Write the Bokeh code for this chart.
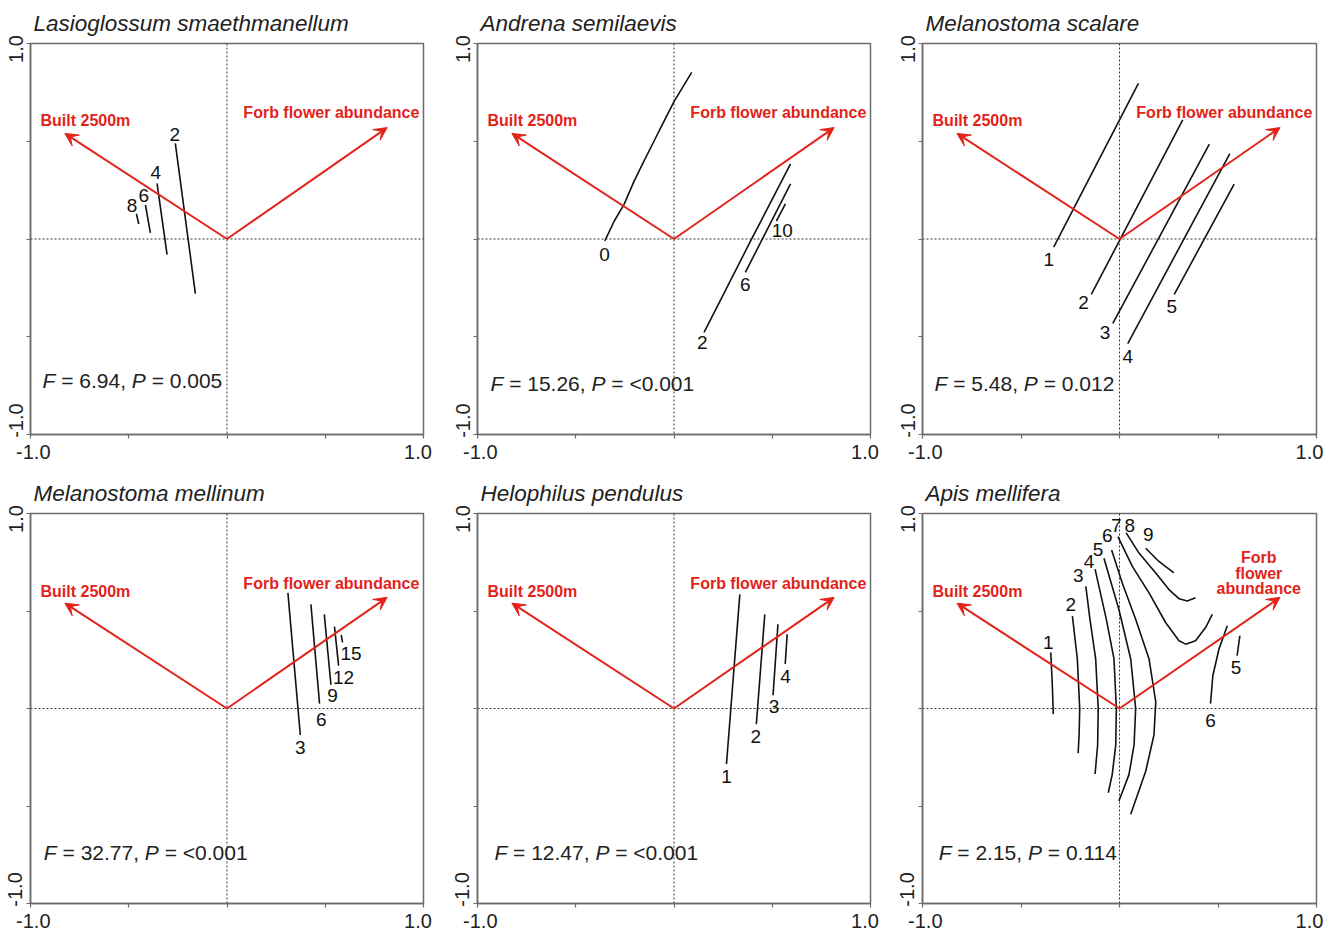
from bokeh.plotting import figure
from bokeh.models import Range1d, FixedTicker, PrintfTickFormatter, Span, Arrow, VeeHead
from bokeh.layouts import column, row
from bokeh.core.properties import value
from bokeh.embed import file_html
from bokeh.resources import INLINE

# ---------------- data ----------------
SPECIES = ["Lasioglossum smaethmanellum", "Andrena semilaevis", "Melanostoma scalare",
           "Melanostoma mellinum", "Helophilus pendulus", "Apis mellifera"]
F_STAT = ["6.94", "15.26", "5.48", "32.77", "12.47", "2.15"]
P_STAT = ["0.005", "<0.001", "0.012", "<0.001", "<0.001", "0.114"]

ENV_NAMES = ["Built 2500m", "Forb flower abundance"]
ENV_X = [-0.825, 0.815]
ENV_Y = [0.54, 0.57]

# isolines (GAM response surfaces) per species: levels, line coordinates, label positions
L1_LEVELS = ["2", "4", "6", "8"]
L1_X = [[-0.263, -0.161], [-0.356, -0.305], [-0.415, -0.390], [-0.461, -0.449]]
L1_Y = [[0.489, -0.279], [0.285, -0.080], [0.175, 0.031], [0.129, 0.076]]
L1_LX = [-0.266, -0.363, -0.424, -0.483]
L1_LY = [0.535, 0.342, 0.221, 0.172]

L2_LEVELS = ["0", "2", "6", "10"]
L2_X = [[-0.352, -0.304, -0.254, -0.203, -0.153, -0.102, -0.068, 0.0, 0.09],
        [0.153, 0.39, 0.593], [0.363, 0.593], [0.521, 0.567]]
L2_Y = [[-0.010, 0.092, 0.177, 0.296, 0.398, 0.5, 0.568, 0.703, 0.852],
        [-0.478, -0.01, 0.384], [-0.171, 0.282], [0.092, 0.180]]
L2_LX = [-0.354, 0.144, 0.363, 0.551]
L2_LY = [-0.079, -0.529, -0.235, 0.044]

L3_LEVELS = ["1", "2", "3", "4", "5"]
L3_X = [[-0.334, 0.096], [-0.143, 0.321], [-0.034, 0.456], [0.042, 0.560], [0.278, 0.582]]
L3_Y = [[-0.042, 0.796], [-0.283, 0.609], [-0.432, 0.485], [-0.535, 0.437], [-0.283, 0.281]]
L3_LX = [-0.359, -0.182, -0.073, 0.042, 0.265]
L3_LY = [-0.105, -0.325, -0.478, -0.602, -0.347]

L4_LEVELS = ["3", "6", "9", "12", "15"]
L4_X = [[0.310, 0.373], [0.427, 0.471], [0.495, 0.529], [0.547, 0.568], [0.581, 0.588]]
L4_Y = [[0.593, -0.136], [0.534, 0.025], [0.483, 0.122], [0.420, 0.220], [0.378, 0.339]]
L4_LX = [0.373, 0.480, 0.537, 0.593, 0.631]
L4_LY = [-0.200, -0.054, 0.068, 0.161, 0.283]

L5_LEVELS = ["1", "2", "3", "4"]
L5_X = [[0.335, 0.267], [0.462, 0.419], [0.529, 0.504], [0.576, 0.566]]
L5_Y = [[0.585, -0.285], [0.483, -0.081], [0.432, 0.068], [0.381, 0.229]]
L5_LX = [0.267, 0.416, 0.509, 0.568]
L5_LY = [-0.348, -0.144, 0.008, 0.166]

L6_LEVELS = ["1", "2", "3", "4", "5", "6", "7", "8", "9", "6", "5"]
L6_X = [[-0.349, -0.341, -0.336],
        [-0.239, -0.214, -0.202, -0.205, -0.210],
        [-0.171, -0.150, -0.121, -0.108, -0.111, -0.124],
        [-0.124, -0.067, -0.028, -0.016, -0.019, -0.037, -0.057],
        [-0.079, -0.003, 0.057, 0.082, 0.074, 0.048, -0.003],
        [-0.040, 0.014, 0.082, 0.150, 0.184, 0.175, 0.133, 0.057],
        [-0.008, 0.065, 0.150, 0.234, 0.302, 0.336, 0.386, 0.437, 0.471],
        [0.034, 0.099, 0.184, 0.251, 0.302, 0.344, 0.386],
        [0.133, 0.200, 0.276],
        [0.547, 0.505, 0.474, 0.462],
        [0.611, 0.597]]
L6_Y = [[0.288, 0.119, -0.029],
        [0.474, 0.254, 0.0, -0.136, -0.229],
        [0.627, 0.458, 0.254, 0.0, -0.187, -0.336],
        [0.715, 0.458, 0.254, 0.0, -0.187, -0.339, -0.432],
        [0.771, 0.508, 0.254, 0.0, -0.187, -0.339, -0.474],
        [0.813, 0.644, 0.458, 0.254, 0.034, -0.136, -0.322, -0.542],
        [0.881, 0.729, 0.593, 0.441, 0.347, 0.330, 0.347, 0.415, 0.483],
        [0.901, 0.797, 0.695, 0.610, 0.563, 0.551, 0.568],
        [0.822, 0.754, 0.695],
        [0.424, 0.305, 0.169, 0.025],
        [0.373, 0.271]]
L6_LX = [-0.361, -0.247, -0.209, -0.155, -0.109, -0.062, -0.016, 0.052, 0.146, 0.462, 0.592]
L6_LY = [0.339, 0.534, 0.681, 0.754, 0.813, 0.885, 0.941, 0.941, 0.890, -0.059, 0.212]

ISOLINES = [
    (L1_LEVELS, L1_X, L1_Y, L1_LX, L1_LY),
    (L2_LEVELS, L2_X, L2_Y, L2_LX, L2_LY),
    (L3_LEVELS, L3_X, L3_Y, L3_LX, L3_LY),
    (L4_LEVELS, L4_X, L4_Y, L4_LX, L4_LY),
    (L5_LEVELS, L5_X, L5_Y, L5_LX, L5_LY),
    (L6_LEVELS, L6_X, L6_Y, L6_LX, L6_LY),
]

# ---------------- style / layout ----------------
FONT = "Liberation Sans"
RED = "#e2231a"
GREY = "#6b6b6b"

COL_W = [447, 445, 442]
COL_BL = [30, 30, 30]
COL_BR = [24, 22, 18]
ROW_H = [469, 465]
ROW_BT = [42, 44]
ROW_BB = [35, 28]

FP_POS = [(-0.939, -0.724), (-0.934, -0.740), (-0.939, -0.740),
          (-0.932, -0.737), (-0.914, -0.737), (-0.918, -0.737)]
FP_SIZE = 21

# Arial / Liberation Sans advance widths (1/1000 em)
ADV = {"F": 611, "P": 667, " ": 278, "=": 584, ".": 278, ",": 278, "<": 584}


def adv(s, size):
    return sum(ADV.get(ch, 556) for ch in s) * size / 1000.0


def panel(k):
    r, c = divmod(k, 3)
    p = figure(width=COL_W[c], height=ROW_H[r],
               x_range=Range1d(-1, 1), y_range=Range1d(-1, 1),
               output_backend="svg", toolbar_location=None,
               min_border_left=COL_BL[c], min_border_right=COL_BR[c],
               min_border_top=ROW_BT[r], min_border_bottom=ROW_BB[r])
    p.background_fill_color = "white"
    p.border_fill_color = "white"
    p.grid.visible = False
    p.outline_line_color = GREY
    p.outline_line_width = 1.5
    p.outline_line_alpha = 1.0

    p.title.text = SPECIES[k]
    p.title.text_font = FONT
    p.title.text_font_style = "italic"
    p.title.text_font_size = "22.5px"
    p.title.text_color = "#222222"
    p.title.align = "left"
    p.title.offset = 3
    p.title.standoff = 16

    for ax in (p.xaxis[0], p.yaxis[0]):
        ax.ticker = FixedTicker(ticks=[-1, 1], minor_ticks=[-0.5, 0, 0.5])
        ax.formatter = PrintfTickFormatter(format="%.1f")
        ax.axis_line_color = GREY
        ax.axis_line_width = 1.5
        ax.major_tick_line_color = GREY
        ax.minor_tick_line_color = GREY
        ax.major_tick_line_width = 1.2
        ax.minor_tick_line_width = 1.2
        ax.major_tick_in = 0
        ax.major_tick_out = 4
        ax.minor_tick_in = 0
        ax.minor_tick_out = 4
        ax.major_label_text_font = FONT
        ax.major_label_text_font_size = "20px"
        ax.major_label_text_color = "#222222"
    p.xaxis.major_label_standoff = 2
    p.yaxis.major_label_standoff = 0
    p.yaxis.major_label_orientation = "vertical"
    # end labels nudged inward, as in the original
    p.xaxis.major_label_overrides = {-1: "\u2008-1.0", 1: "1.0\u2007"}
    p.yaxis.major_label_overrides = {-1: "\u2007\u2007\u2008-1.0", 1: "1.0\u2007"}

    # zero lines
    for dim in ("width", "height"):
        p.add_layout(Span(location=0, dimension=dim, line_color="#333333",
                          line_width=1, line_dash="2 2", level="underlay"))

    # environmental arrows
    for ex, ey in zip(ENV_X, ENV_Y):
        p.add_layout(Arrow(end=VeeHead(size=13, fill_color=RED, line_color=RED, line_width=1),
                           x_start=0, y_start=0, x_end=ex, y_end=ey,
                           line_color=RED, line_width=2))

    # environmental labels
    p.text(x=[-0.949], y=[0.607 if r == 0 else 0.600], text=[ENV_NAMES[0]],
           text_font=value(FONT), text_font_style="bold", text_font_size="16px",
           text_color=RED, text_align="left", text_baseline="middle")
    if k == 5:
        p.text(x=[0.707, 0.707, 0.707], y=[0.775, 0.693, 0.613],
               text=["Forb", "flower", "abundance"],
               text_font=value(FONT), text_font_style="bold", text_font_size="16px",
               text_color=RED, text_align="center", text_baseline="middle")
    else:
        p.text(x=[0.979], y=[0.645 if r == 0 else 0.641], text=[ENV_NAMES[1]],
               text_font=value(FONT), text_font_style="bold", text_font_size="16px",
               text_color=RED, text_align="right", text_baseline="middle")

    # isolines
    levels, xs, ys, lx, ly = ISOLINES[k]
    p.multi_line(xs=xs, ys=ys, line_color="#111111", line_width=1.6)
    p.text(x=lx, y=ly, text=levels, text_font=value(FONT), text_font_size="19px",
           text_color="#111111", text_align="center", text_baseline="middle")

    # F / P statistic (italic letters)
    fs, ps = F_STAT[k], P_STAT[k]
    pieces = ["F", "= " + fs + ",", "P", "= " + ps]
    offs = [0.0, adv("F ", FP_SIZE), adv("F = " + fs + ", ", FP_SIZE),
            adv("F = " + fs + ", P ", FP_SIZE)]
    fx, fy = FP_POS[k]
    p.text(x=[fx] * 4, y=[fy] * 4, text=pieces, x_offset=offs,
           text_font=value(FONT), text_font_size="%dpx" % FP_SIZE,
           text_font_style=["italic", "normal", "italic", "normal"],
           text_color="#222222", text_align="left", text_baseline="middle")
    return p


plots = [panel(k) for k in range(6)]
layout = column(row(*plots[:3]), row(*plots[3:]))

open("out.html", "w").write(file_html(layout, INLINE))
